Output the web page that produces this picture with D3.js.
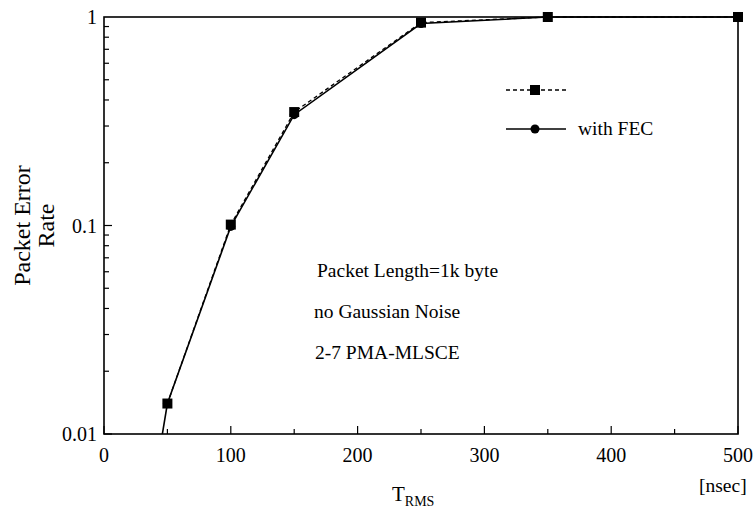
<!DOCTYPE html>
<html>
<head>
<meta charset="utf-8">
<script src="https://d3js.org/d3.v7.min.js"></script>
<style>
  body { margin: 0; background: #fff; }
  text { font-family: "Liberation Serif", "Times New Roman", serif; fill: #000; }
</style>
</head>
<body>
<svg></svg>
<script>
  // values
  var trms = [50, 100, 150, 250, 350, 500];
  var perNoFec = [0.014, 0.101, 0.35, 0.94, 1, 1];
  var trmsFec = [40, 50, 100, 150, 250, 350, 500];
  var perFec = [0.006, 0.014, 0.099, 0.34, 0.93, 1, 1];
  var xTicks = [0, 100, 200, 300, 400, 500];
  var yTicks = [0.01, 0.1, 1];
  var notes = ["Packet Length=1k byte", "no Gaussian Noise", "2-7 PMA-MLSCE"];

  var width = 754, height = 508;
  var margin = {left: 104, right: 16, top: 17, bottom: 74};

  var svg = d3.select("svg").attr("width", width).attr("height", height);

  var x = d3.scaleLinear().domain([0, 500]).range([margin.left, width - margin.right]);
  var y = d3.scaleLog().domain([0.01, 1]).range([height - margin.bottom, margin.top]);

  svg.append("defs").append("clipPath").attr("id", "clip")
    .append("rect")
    .attr("x", x(0)).attr("y", y(1) - 8)
    .attr("width", x(500) - x(0) + 8).attr("height", y(0.01) - y(1) + 8);

  // frame
  svg.append("rect")
    .attr("x", x(0)).attr("y", y(1))
    .attr("width", x(500) - x(0)).attr("height", y(0.01) - y(1))
    .attr("fill", "none").attr("stroke", "#000").attr("stroke-width", 1.6);

  // bottom ticks (inside)
  var xAll = d3.range(0, 501, 50);
  svg.append("g").selectAll("line").data(xAll).enter().append("line")
    .attr("x1", function(d) { return x(d); })
    .attr("x2", function(d) { return x(d); })
    .attr("y1", y(0.01))
    .attr("y2", function(d) { return y(0.01) - (d % 100 === 0 ? 8 : 5); })
    .attr("stroke", "#000").attr("stroke-width", 1.2);

  // left log ticks (inside)
  var yAll = [];
  [0.01, 0.1].forEach(function(b) {
    for (var k = 1; k < 10; k++) yAll.push(b * k);
  });
  svg.append("g").selectAll("line").data(yAll).enter().append("line")
    .attr("x1", x(0))
    .attr("x2", function(d, i) { return x(0) + (i % 9 === 0 ? 8 : 5); })
    .attr("y1", function(d) { return y(d); })
    .attr("y2", function(d) { return y(d); })
    .attr("stroke", "#000").attr("stroke-width", 1.2);

  svg.append("g").selectAll("text").data(xTicks).enter().append("text")
    .attr("x", function(d) { return x(d); })
    .attr("y", y(0.01) + 28)
    .attr("text-anchor", "middle")
    .attr("font-size", 20)
    .text(function(d) { return d; });

  svg.append("g").selectAll("text").data(yTicks).enter().append("text")
    .attr("x", x(0) - 7)
    .attr("y", function(d) { return y(d) + 7; })
    .attr("text-anchor", "end")
    .attr("font-size", 20)
    .text(function(d) { return d; });

  var lineNo = d3.line()
    .x(function(d) { return x(d[0]); })
    .y(function(d) { return y(d[1]); });

  var dataNo = trms.map(function(t, i) { return [t, perNoFec[i]]; });
  var dataFec = trmsFec.map(function(t, i) { return [t, perFec[i]]; });

  var plot = svg.append("g").attr("clip-path", "url(#clip)");

  plot.append("path").datum(dataNo)
    .attr("fill", "none").attr("stroke", "#000").attr("stroke-width", 1.3)
    .attr("stroke-dasharray", "4,3")
    .attr("d", lineNo);

  plot.append("path").datum(dataFec)
    .attr("fill", "none").attr("stroke", "#000").attr("stroke-width", 1.6)
    .attr("d", lineNo);

  plot.selectAll("circle.fec").data(dataFec).enter().append("circle")
    .attr("class", "fec")
    .attr("cx", function(d) { return x(d[0]); })
    .attr("cy", function(d) { return y(d[1]); })
    .attr("r", 4.5).attr("fill", "#000");

  plot.selectAll("rect.no").data(dataNo).enter().append("rect")
    .attr("class", "no")
    .attr("x", function(d) { return x(d[0]) - 5; })
    .attr("y", function(d) { return y(d[1]) - 5; })
    .attr("width", 10).attr("height", 10).attr("fill", "#000");

  // legend
  var lg = svg.append("g");
  lg.append("line").attr("x1", 506).attr("x2", 566).attr("y1", 90).attr("y2", 90)
    .attr("stroke", "#000").attr("stroke-width", 1.3).attr("stroke-dasharray", "4,3");
  lg.append("rect").attr("x", 530).attr("y", 85).attr("width", 10).attr("height", 10).attr("fill", "#000");
  lg.append("line").attr("x1", 506).attr("x2", 566).attr("y1", 129).attr("y2", 129)
    .attr("stroke", "#000").attr("stroke-width", 1.6);
  lg.append("circle").attr("cx", 535).attr("cy", 129).attr("r", 4.5).attr("fill", "#000");
  lg.append("text").attr("x", 578).attr("y", 135).attr("font-size", 19.5).text("with FEC");

  // notes
  var noteX = [317, 314, 315], noteY = [277, 318, 359];
  svg.append("g").selectAll("text").data(notes).enter().append("text")
    .attr("x", function(d, i) { return noteX[i]; })
    .attr("y", function(d, i) { return noteY[i]; })
    .attr("font-size", 19.5)
    .text(function(d) { return d; });

  // axis titles
  var yl = svg.append("text")
    .attr("transform", "translate(30," + ((y(1) + y(0.01)) / 2) + ") rotate(-90)")
    .attr("text-anchor", "middle").attr("font-size", 24);
  yl.append("tspan").attr("x", 0).attr("dy", 0).text("Packet Error");
  yl.append("tspan").attr("x", 0).attr("dy", 24).text("Rate");

  var xl = svg.append("text").attr("x", 392).attr("y", 501).attr("font-size", 21);
  xl.append("tspan").text("T");
  xl.append("tspan").attr("font-size", 14).attr("dy", 5).text("RMS");

  svg.append("text").attr("x", 699).attr("y", 492).attr("font-size", 19.5)
    .attr("text-anchor", "start").text("[nsec]");
</script>
</body>
</html>
